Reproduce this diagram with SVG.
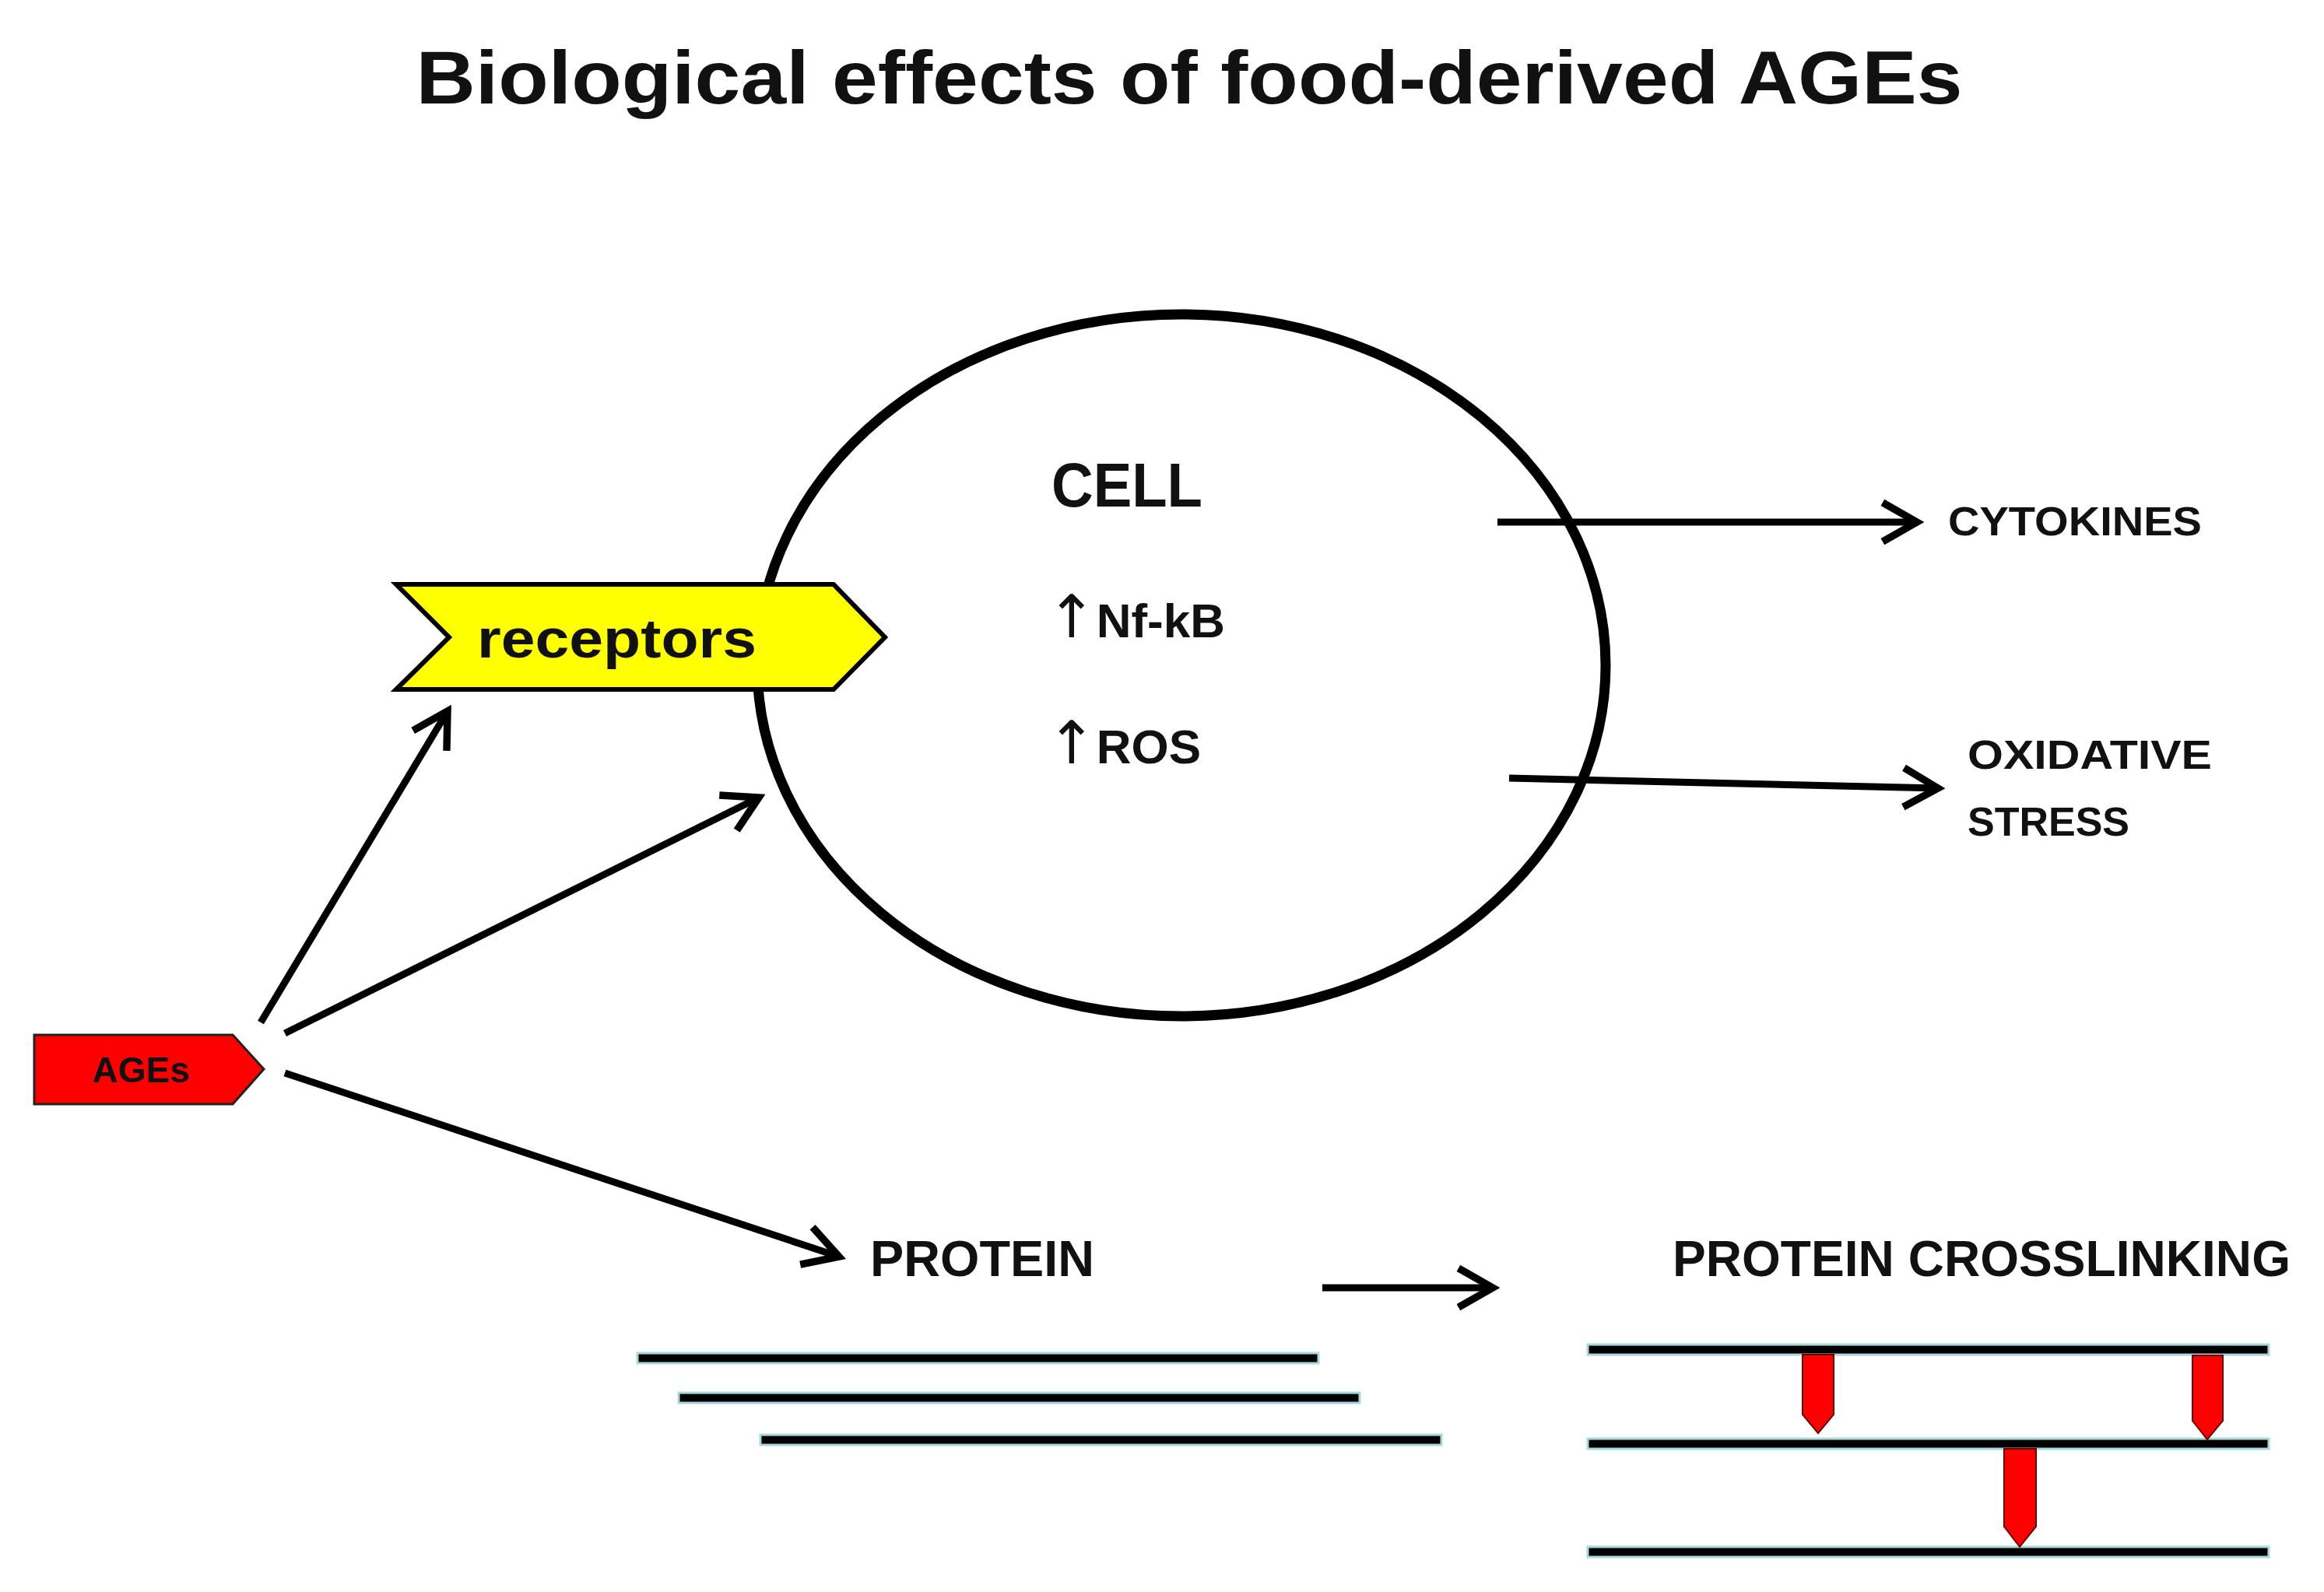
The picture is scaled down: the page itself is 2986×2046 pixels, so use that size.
<svg xmlns="http://www.w3.org/2000/svg" width="2986" height="2046" viewBox="0 0 2986 2046">
<defs>
<style>
text{font-family:"Liberation Sans",Arial,sans-serif;font-weight:bold;fill:#111}
.up{font-family:"DejaVu Sans",sans-serif;font-weight:normal}
.c{stroke:#000;stroke-width:9;fill:none}
.bar{fill:#000;stroke:#a8d8dc;stroke-width:3}
.peg{fill:#f00;stroke:#600;stroke-width:2}
</style>
<marker id="ah" viewBox="0 0 20 20" refX="17" refY="10" markerWidth="7" markerHeight="7" markerUnits="strokeWidth" orient="auto">
<path d="M3,2 L17,10 L3,18" fill="none" stroke="#000" stroke-width="3"/>
</marker>
</defs>
<rect width="2986" height="2046" fill="#fff"/>
<text x="1528" y="133" font-size="96" text-anchor="middle" textLength="1987" lengthAdjust="spacingAndGlyphs">Biological effects of food-derived AGEs</text>
<g id="cell">
<ellipse cx="1518" cy="855" rx="545" ry="451" fill="none" stroke="#000" stroke-width="13"/>
<text x="1351" y="651" font-size="80" textLength="194" lengthAdjust="spacingAndGlyphs">CELL</text>
<text x="1345" y="819" font-size="62"><tspan class="up" font-size="76">↑</tspan>Nf-kB</text>
<text x="1345" y="981" font-size="62"><tspan class="up" font-size="76">↑</tspan>ROS</text>
</g>
<g id="receptors">
<polygon points="509,751 1071,751 1137,819 1071,886 509,886 577,819" fill="#ff0" stroke="#000" stroke-width="6"/>
<text x="613" y="845" font-size="70" textLength="359" lengthAdjust="spacingAndGlyphs">receptors</text>
</g>
<g id="ages">
<polygon points="44,1330 299,1330 339,1374 299,1419 44,1419" fill="#f00" stroke="#222" stroke-width="3"/>
<text x="181" y="1391" font-size="46" text-anchor="middle">AGEs</text>
</g>
<g id="labels">
<text x="2503" y="688" font-size="52" textLength="326" lengthAdjust="spacingAndGlyphs">CYTOKINES</text>
<text x="2528" y="988" font-size="52" textLength="314" lengthAdjust="spacingAndGlyphs">OXIDATIVE</text>
<text x="2528" y="1074" font-size="52">STRESS</text>
<text x="1118" y="1640" font-size="64" textLength="288" lengthAdjust="spacingAndGlyphs">PROTEIN</text>
<text x="2149" y="1640" font-size="64" textLength="794" lengthAdjust="spacingAndGlyphs">PROTEIN CROSSLINKING</text>
</g>
<g id="connectors">
<line class="c" x1="335" y1="1314" x2="575" y2="914" marker-end="url(#ah)"/>
<line class="c" x1="366" y1="1328" x2="975" y2="1025" marker-end="url(#ah)"/>
<line class="c" x1="366" y1="1379" x2="1078" y2="1615" marker-end="url(#ah)"/>
<line class="c" x1="1924" y1="671" x2="2463" y2="671" marker-end="url(#ah)"/>
<line class="c" x1="1939" y1="1000" x2="2490" y2="1013" marker-end="url(#ah)"/>
<line class="c" x1="1699" y1="1655" x2="1918" y2="1655" marker-end="url(#ah)"/>
</g>
<g id="protein">
<rect class="bar" x="819" y="1739" width="875" height="13"/>
<rect class="bar" x="872" y="1790" width="875" height="13"/>
<rect class="bar" x="977" y="1844" width="875" height="13"/>
</g>
<g id="crosslinking">
<rect class="bar" x="2040" y="1728" width="875" height="13"/>
<rect class="bar" x="2040" y="1849" width="875" height="13"/>
<rect class="bar" x="2040" y="1988" width="875" height="13"/>
<polygon class="peg" points="2316,1741 2356,1741 2356,1818 2336,1842 2316,1818"/>
<polygon class="peg" points="2817,1742 2856,1742 2856,1826 2836,1850 2817,1826"/>
<polygon class="peg" points="2575,1862 2616,1862 2616,1962 2595,1988 2575,1962"/>
</g>
</svg>
